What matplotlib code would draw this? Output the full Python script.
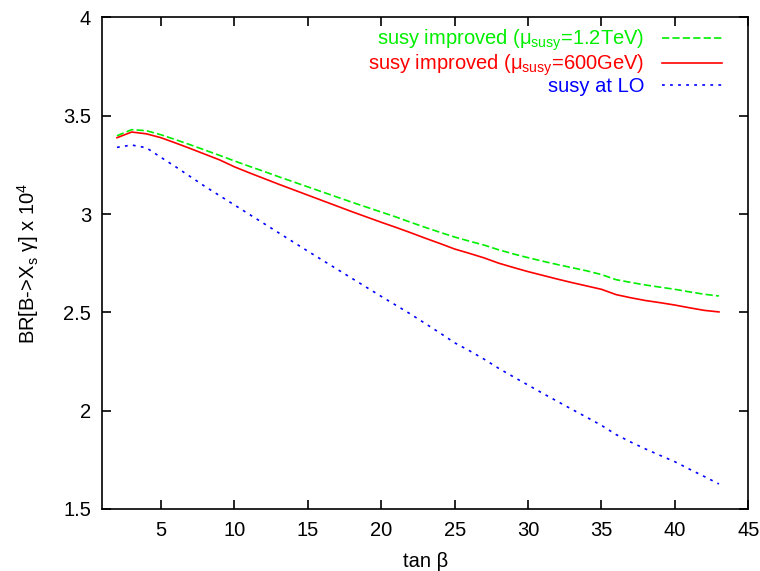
import matplotlib
matplotlib.use("Agg")
import matplotlib.pyplot as plt
from matplotlib.ticker import FuncFormatter

plt.rcParams['font.family'] = ['Liberation Sans', 'DejaVu Sans']
plt.rcParams['mathtext.fontset'] = 'custom'
plt.rcParams['mathtext.rm'] = 'Liberation Sans'
plt.rcParams['mathtext.it'] = 'Liberation Sans'
plt.rcParams['mathtext.bf'] = 'Liberation Sans:bold'
plt.rcParams['lines.scale_dashes'] = False

tanb = list(range(2, 44))
green_12tev = [3.398, 3.429, 3.424, 3.403, 3.378, 3.352, 3.325, 3.298, 3.270,
               3.243, 3.217, 3.190, 3.164, 3.138, 3.112, 3.086, 3.060, 3.035,
               3.010, 2.985, 2.958, 2.932, 2.907, 2.883, 2.862, 2.842, 2.818,
               2.797, 2.778, 2.760, 2.743, 2.727, 2.711, 2.692, 2.666, 2.652,
               2.639, 2.628, 2.617, 2.604, 2.592, 2.583]
red_600gev = [3.388, 3.417, 3.408, 3.388, 3.361, 3.333, 3.304, 3.275, 3.240,
              3.210, 3.181, 3.152, 3.124, 3.096, 3.068, 3.040, 3.012, 2.985,
              2.958, 2.932, 2.905, 2.877, 2.850, 2.822, 2.800, 2.777, 2.750,
              2.728, 2.707, 2.688, 2.669, 2.651, 2.634, 2.617, 2.590, 2.574,
              2.560, 2.549, 2.537, 2.523, 2.510, 2.502]
blue_lo = [3.339, 3.351, 3.337, 3.288, 3.240, 3.190, 3.140, 3.093, 3.046,
           2.999, 2.952, 2.905, 2.858, 2.811, 2.765, 2.719, 2.673, 2.627,
           2.581, 2.536, 2.491, 2.443, 2.395, 2.345, 2.305, 2.262, 2.215,
           2.172, 2.130, 2.088, 2.047, 2.006, 1.966, 1.925, 1.878, 1.840,
           1.805, 1.772, 1.740, 1.702, 1.665, 1.627]

labels = [r'susy improved (μ$_{\mathrm{susy}}$=1.2TeV)',
          r'susy improved (μ$_{\mathrm{susy}}$=600GeV)',
          'susy at LO']
xticks = [5, 10, 15, 20, 25, 30, 35, 40, 45]
yticks = [1.5, 2, 2.5, 3, 3.5, 4]

fs = 14.5
fig = plt.figure(figsize=(7.6, 5.71), dpi=100)
ax = fig.add_axes([0.1346, 0.1087, 0.8500, 0.8608])

lw = 1.2
ax.plot(tanb, green_12tev, color='#00ee00', lw=lw, dashes=(5.2, 2.3), label=labels[0])
ax.plot(tanb, red_600gev, color='#ff0000', lw=lw, label=labels[1])
ax.plot(tanb, blue_lo, color='#0000ff', lw=lw, dashes=(2.0, 3.8), label=labels[2])

ax.set_xlim(1, 45)
ax.set_ylim(1.5, 4)
ax.set_xticks(xticks)
ax.set_yticks(yticks)
ax.yaxis.set_major_formatter(FuncFormatter(lambda v, p: '%g' % v))
ax.tick_params(direction='in', length=6.5, width=1.2, top=True, right=True,
               labelsize=fs)
ax.tick_params(axis='x', pad=9)
ax.tick_params(axis='y', pad=8)
for s in ax.spines.values():
    s.set_linewidth(1.2)

ax.set_xlabel(r'tan β', fontsize=fs, labelpad=8)
ax.set_ylabel(r'BR[B->X$_{\mathrm{s}}$ γ] x 10$^{4}$', fontsize=fs, labelpad=16)

leg = ax.legend(loc='upper right', bbox_to_anchor=(0.9717, 0.995),
                frameon=False, markerfirst=False, fontsize=fs,
                handlelength=3.0, handletextpad=0.85, labelspacing=-0.04,
                borderaxespad=0.0)
for t, l in zip(leg.get_texts(), leg.get_lines()):
    t.set_color(l.get_color())
    t.set_ha('right')
leg._legend_box.align = 'right'

fig.savefig('out.png', dpi=100)
